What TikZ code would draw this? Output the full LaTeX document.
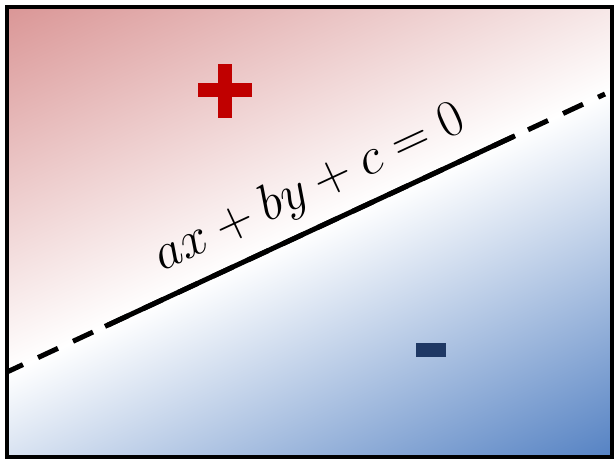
\RequirePackage{fix-cm}
\documentclass[tikz,border=0pt]{standalone}
\usepackage{amsmath}
\begin{document}
\begin{tikzpicture}[x=1pt,y=1pt,
  frame/.style={draw=black,line width=4pt},
  dashedsep/.style={line width=5pt,dash pattern=on 22pt off 16.6pt,dash phase=4.4pt},
  solidsep/.style={line width=5pt},
  eqlabel/.style={anchor=base west,inner sep=0pt,rotate=24.94,font=\fontsize{52}{58}\selectfont}]
\definecolor{redend}{RGB}{218,150,150}
\definecolor{blueend}{RGB}{85,130,195}
\definecolor{pluscol}{RGB}{192,0,0}
\definecolor{minuscol}{RGB}{31,56,100}
\useasboundingbox (0,0) rectangle (616,-462);
\coordinate (TL) at (7,-7);
\coordinate (BR) at (611.5,-457);
\begin{scope}
  \clip (TL) rectangle (BR);
  \begin{scope}[transform canvas={rotate around={25:(309.5,-232)}}]
  \shade[top color=redend,bottom color=blueend,middle color=white]
    (-59.5,-564) rectangle (678.5,100);
  \end{scope}
\end{scope}
% plus sign
\fill[pluscol] (198,-83) rectangle (252,-97);
\fill[pluscol] (218,-64) rectangle (232,-118);
% minus sign
\fill[minuscol] (416,-343) rectangle (446,-357);
% separating line
\coordinate (A) at (7,-372);
\coordinate (B) at (605,-94);
\coordinate (S1) at (105,-326.4);
\coordinate (S2) at (515,-135.8);
\draw[dashedsep] (A) -- (B);
\draw[solidsep] (S1) -- (S2);
\node[eqlabel] (eq) at (162,-272) {$ax+by+c=0$};
\draw[frame] (TL) rectangle (BR);
\end{tikzpicture}
\end{document}
